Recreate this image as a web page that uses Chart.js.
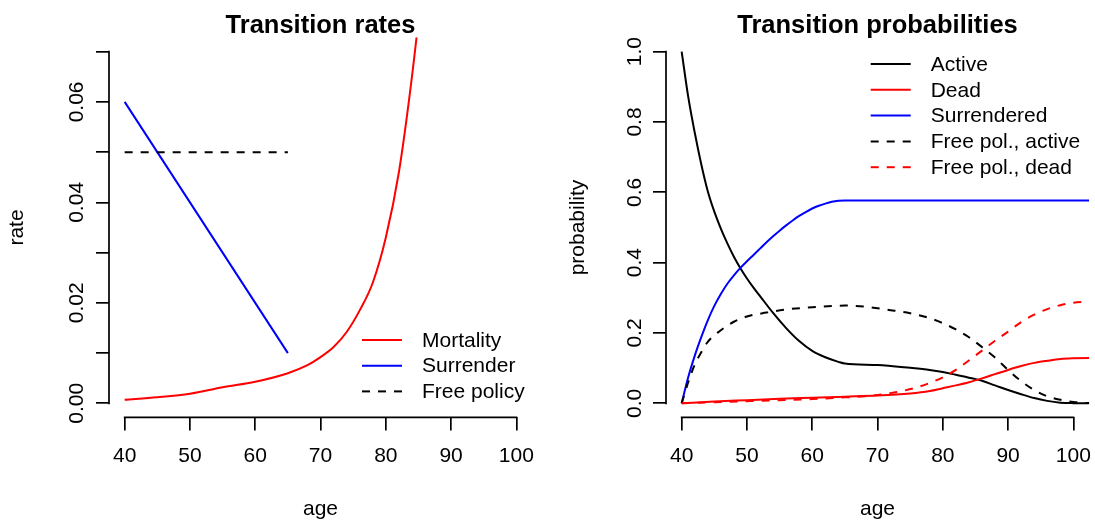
<!DOCTYPE html>
<html>
<head>
<meta charset="utf-8">
<script src="https://cdn.jsdelivr.net/npm/chart.js@4.4.1/dist/chart.umd.min.js"></script>
<style>
  html, body { margin: 0; padding: 0; background: #fff; }
  #wrap { position: relative; width: 1095px; height: 523px; overflow: hidden; }
  canvas { position: absolute; top: 0; }
  #left { left: 0; }
  #right { left: 557px; }
</style>
</head>
<body>
<div id="wrap">
  <canvas id="left" width="548" height="523"></canvas>
  <canvas id="right" width="548" height="523"></canvas>
</div>
<script>
// ===== shared axis ticks =====
const ageTicks = [40, 50, 60, 70, 80, 90, 100]
const ageLabels = ['40', '50', '60', '70', '80', '90', '100']

// ===== left panel: transition rates =====
const rateTicks = [0, 0.01, 0.02, 0.03, 0.04, 0.05, 0.06, 0.07]
const rateLabels = ['0.00', '', '0.02', '', '0.04', '', '0.06', '']

const mortAge = [40, 45, 50, 55, 60, 65, 68, 70, 72, 74, 76, 78, 80, 82, 84, 86]
const mortRate = [0.0007, 0.0012, 0.0019, 0.0032, 0.0043, 0.0060, 0.0076, 0.0092, 0.0112, 0.0142, 0.0185, 0.0240, 0.0330, 0.0460, 0.0650, 0.0880]

const surrAge = [40, 65]
const surrRate = [0.06, 0.01]

const freeAge = [40, 65]
const freeRate = [0.05, 0.05]

// ===== right panel: transition probabilities =====
const probTicks = [0, 0.2, 0.4, 0.6, 0.8, 1.0]
const probLabels = ['0.0', '0.2', '0.4', '0.6', '0.8', '1.0']

const activeAge = [40, 41, 42, 43, 44, 45, 46, 47, 48, 49, 50, 51, 52, 54, 56, 58, 60, 62, 64, 65, 70, 75, 78, 80, 82, 84, 86, 88, 90, 92, 94, 96, 98, 100, 103]
const activeProb = [1.0, 0.872, 0.77, 0.68, 0.603, 0.545, 0.497, 0.455, 0.417, 0.384, 0.355, 0.329, 0.305, 0.257, 0.214, 0.177, 0.149, 0.131, 0.118, 0.113, 0.109, 0.101, 0.095, 0.089, 0.081, 0.073, 0.064, 0.051, 0.038, 0.026, 0.015, 0.007, 0.002, 0.0005, 0]

const deadAge = [40, 45, 50, 55, 60, 65, 70, 75, 78, 80, 82, 84, 86, 88, 90, 92, 94, 96, 98, 100, 103, 105]
const deadProb = [0, 0.005, 0.009, 0.013, 0.016, 0.019, 0.022, 0.028, 0.035, 0.043, 0.051, 0.06, 0.071, 0.083, 0.095, 0.106, 0.115, 0.121, 0.126, 0.128, 0.129, 0.129]

const surrPAge = [40, 41, 42, 43, 44, 45, 46, 47, 48, 49, 50, 51, 52, 53, 54, 55, 56, 57, 58, 59, 60, 61, 62, 63, 64, 65, 70, 80, 90, 100, 103]
const surrProb = [0, 0.074, 0.135, 0.188, 0.236, 0.277, 0.311, 0.340, 0.364, 0.385, 0.404, 0.422, 0.440, 0.458, 0.475, 0.491, 0.506, 0.520, 0.533, 0.544, 0.554, 0.562, 0.568, 0.573, 0.576, 0.577, 0.577, 0.577, 0.577, 0.577, 0.577]

const fpaAge = [40, 41, 42, 43, 44, 46, 48, 50, 53, 56, 60, 65, 68, 72, 75, 78, 80, 82, 84, 86, 88, 90, 92, 94, 96, 98, 100, 102, 105]
const fpaProb = [0, 0.06, 0.11, 0.145, 0.175, 0.208, 0.232, 0.247, 0.258, 0.267, 0.273, 0.278, 0.275, 0.265, 0.256, 0.242, 0.228, 0.21, 0.188, 0.16, 0.13, 0.095, 0.063, 0.038, 0.02, 0.01, 0.004, 0.001, 0]

const fpdAge = [40, 45, 50, 55, 60, 65, 68, 70, 72, 74, 76, 78, 80, 82, 84, 86, 88, 90, 92, 94, 96, 98, 100, 102, 105]
const fpdProb = [0, 0.003, 0.006, 0.009, 0.012, 0.017, 0.02, 0.024, 0.029, 0.036, 0.045, 0.058, 0.074, 0.095, 0.122, 0.15, 0.178, 0.204, 0.231, 0.252, 0.268, 0.279, 0.286, 0.289, 0.291]

const FONT = "'Liberation Sans', Arial, Helvetica, sans-serif"
const FONT_SIZE = 21
const LW = 2
const AXIS_LW = 1.7
const DASH = [8, 8]

Chart.defaults.font.family = FONT
Chart.defaults.font.size = FONT_SIZE
Chart.defaults.color = '#000'

// R pads the axis range by 4% on both sides
const usr = (lo, hi) => { const d = (hi - lo) * 0.04; return [lo - d, hi + d] }
const toPoints = (xs, ys) => xs.map((x, i) => ({ x: x, y: ys[i] }))

// axis line only spans first to last tick, like R's axis()
const axisLines = {
    id: 'axisLines',
    afterDraw(chart) {
        const { ctx, chartArea } = chart
        const x = chart.scales.x, y = chart.scales.y
        ctx.save()
        ctx.strokeStyle = '#000'
        ctx.lineWidth = AXIS_LW
        ctx.beginPath()
        ctx.moveTo(x.getPixelForValue(x.ticks[0].value) - AXIS_LW / 2, chartArea.bottom)
        ctx.lineTo(x.getPixelForValue(x.ticks[x.ticks.length - 1].value) + AXIS_LW / 2, chartArea.bottom)
        ctx.moveTo(chartArea.left, y.getPixelForValue(y.ticks[0].value) + AXIS_LW / 2)
        ctx.lineTo(chartArea.left, y.getPixelForValue(y.ticks[y.ticks.length - 1].value) - AXIS_LW / 2)
        ctx.stroke()
        ctx.restore()
    }
}

// legend with line samples, drawn from the datasets
const lineLegend = {
    id: 'lineLegend',
    afterDraw(chart, args, opts) {
        const ctx = chart.ctx
        ctx.save()
        ctx.font = FONT_SIZE + 'px ' + FONT
        ctx.textBaseline = 'middle'
        chart.data.datasets.forEach((ds, i) => {
            const y = opts.y + i * opts.rowHeight
            ctx.beginPath()
            ctx.setLineDash(ds.borderDash || [])
            ctx.lineWidth = ds.borderWidth
            ctx.strokeStyle = ds.borderColor
            ctx.moveTo(opts.x, y)
            ctx.lineTo(opts.x + opts.sampleWidth, y)
            ctx.stroke()
            ctx.setLineDash([])
            ctx.fillStyle = '#000'
            ctx.fillText(ds.label, opts.x + opts.sampleWidth + opts.gap, y + 1)
        })
        ctx.restore()
    }
}

function series(label, xs, ys, color, dashed, i, n) {
    return {
        label: label,
        data: toPoints(xs, ys),
        borderColor: color,
        borderWidth: LW,
        borderDash: dashed ? DASH : [],
        pointRadius: 0,
        fill: false,
        cubicInterpolationMode: 'monotone',
        order: n - i
    }
}

function makePanel(id, cfg) {
    const [xmin, xmax] = usr(40, 100)
    const [ymin, ymax] = usr(cfg.yTicks[0], cfg.yTicks[cfg.yTicks.length - 1])
    const n = cfg.datasets.length
    return new Chart(document.getElementById(id), {
        type: 'line',
        data: { datasets: cfg.datasets.map((d, i) => series(d[0], d[1], d[2], d[3], d[4], i, n)) },
        plugins: [axisLines, lineLegend],
        options: {
            responsive: false,
            animation: false,
            events: [],
            layout: { padding: { top: 0, right: 13, bottom: 0, left: 0 } },
            plugins: {
                legend: { display: false },
                tooltip: { enabled: false },
                title: {
                    display: true,
                    text: cfg.title,
                    fullSize: false,
                    color: '#000',
                    font: { size: 25.5, weight: 'bold' },
                    padding: { top: 10.2, bottom: -3.2 }
                },
                lineLegend: cfg.legend
            },
            scales: {
                x: {
                    type: 'linear',
                    min: xmin,
                    max: xmax,
                    afterBuildTicks: s => { s.ticks = ageTicks.map(v => ({ value: v })) },
                    afterFit: s => { s.height = 105.6 },
                    grid: { drawOnChartArea: false, drawTicks: true, tickLength: 13, color: '#000', lineWidth: AXIS_LW },
                    border: { display: false },
                    ticks: { autoSkip: false, maxRotation: 0, padding: 13.5, callback: (v, i) => ageLabels[i] },
                    title: { display: true, text: 'age', padding: { top: 0, bottom: 0.8 } }
                },
                y: {
                    type: 'linear',
                    min: ymin,
                    max: ymax,
                    afterBuildTicks: s => { s.ticks = cfg.yTicks.map(v => ({ value: v })) },
                    afterFit: s => { s.width = 109 },
                    grid: { drawOnChartArea: false, drawTicks: true, tickLength: 13, color: '#000', lineWidth: AXIS_LW },
                    border: { display: false },
                    ticks: {
                        autoSkip: false, minRotation: 90, maxRotation: 90,
                        crossAlign: 'center', padding: cfg.yTickPad,
                        callback: (v, i) => cfg.yLabels[i]
                    },
                    title: { display: true, text: cfg.yTitle, padding: { top: cfg.yTitlePad, bottom: 0 } }
                }
            }
        }
    })
}

makePanel('left', {
    title: 'Transition rates',
    yTitle: 'rate',
    yTitlePad: 4.5,
    yTicks: rateTicks,
    yLabels: rateLabels,
    yTickPad: -2,
    legend: { x: 362, y: 340, rowHeight: 25.7, sampleWidth: 40, gap: 20 },
    datasets: [
        ['Mortality', mortAge, mortRate, 'red', false],
        ['Surrender', surrAge, surrRate, 'blue', false],
        ['Free policy', freeAge, freeRate, 'black', true]
    ]
})

makePanel('right', {
    title: 'Transition probabilities',
    yTitle: 'probability',
    yTitlePad: 8.5,
    yTicks: probTicks,
    yLabels: probLabels,
    yTickPad: 3,
    legend: { x: 313.7, y: 64, rowHeight: 25.8, sampleWidth: 40, gap: 20 },
    datasets: [
        ['Active', activeAge, activeProb, 'black', false],
        ['Dead', deadAge, deadProb, 'red', false],
        ['Surrendered', surrPAge, surrProb, 'blue', false],
        ['Free pol., active', fpaAge, fpaProb, 'black', true],
        ['Free pol., dead', fpdAge, fpdProb, 'red', true]
    ]
})
</script>
</body>
</html>
